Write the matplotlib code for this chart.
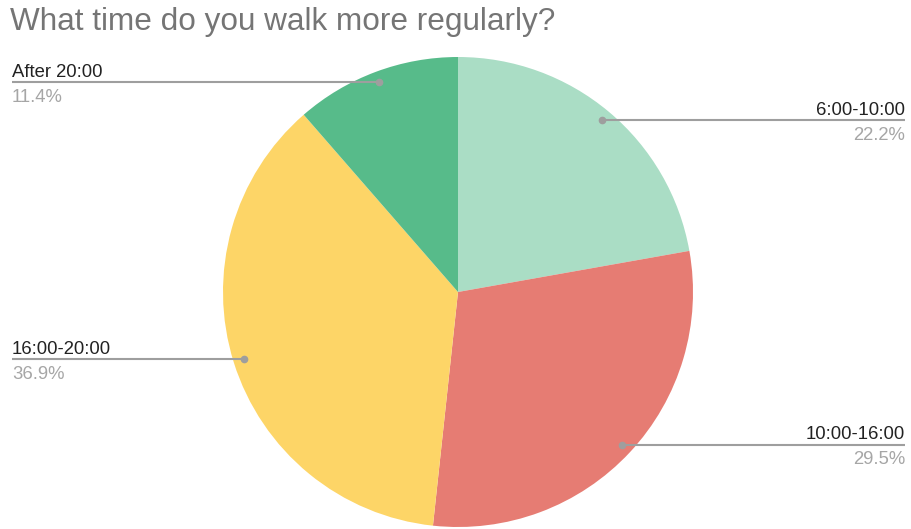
import numpy as np
import matplotlib
matplotlib.use("Agg")
import matplotlib.pyplot as plt

title = "What time do you walk more regularly?"
categories = ["6:00-10:00", "10:00-16:00", "16:00-20:00", "After 20:00"]
shares = [22.2, 29.5, 36.9, 11.4]
colors = ["#aaddc5", "#e67c73", "#fdd567", "#57bb8a"]

W, H = 911, 529
fig = plt.figure(figsize=(W / 100, H / 100), dpi=100)
ax = fig.add_axes([0, 0, 1, 1])

cx, cy, R = 458, H - 292, 235
wedges, _ = ax.pie(shares, colors=colors, startangle=90, counterclock=False,
                   center=(cx, cy), radius=R, frame=True,
                   wedgeprops=dict(linewidth=0))
ax.set_xlim(0, W)
ax.set_ylim(0, H)
ax.set_aspect("auto")
ax.axis("off")

fam = ["Liberation Sans", "DejaVu Sans"]
line_col = "#9e9e9e"
for w, cat, val in zip(wedges, categories, shares):
    mid = np.deg2rad((w.theta1 + w.theta2) / 2)
    px = cx + 0.953 * R * np.cos(mid)
    py = cy + 0.953 * R * np.sin(mid)
    if np.cos(mid) >= 0:
        x_end, ha = 905, "right"
    else:
        x_end, ha = 12, "left"
    ax.plot([px, x_end], [py, py], color=line_col, lw=1.5, solid_capstyle="butt")
    ax.plot([px], [py], "o", color=line_col, ms=4.5)
    ax.text(x_end, py + 5.5, cat, ha=ha, va="baseline", fontsize=13.3,
            color="#222222", family=fam)
    ax.text(x_end, py - 6.5, f"{val}%", ha=ha, va="top", fontsize=13.3,
            color="#a6a6a6", family=fam)

fig.text(10 / W, 1 - 30 / H, title, ha="left", va="baseline", fontsize=22.7,
         color="#757575", family=fam)

fig.savefig("out.png", dpi=100, facecolor="white")
